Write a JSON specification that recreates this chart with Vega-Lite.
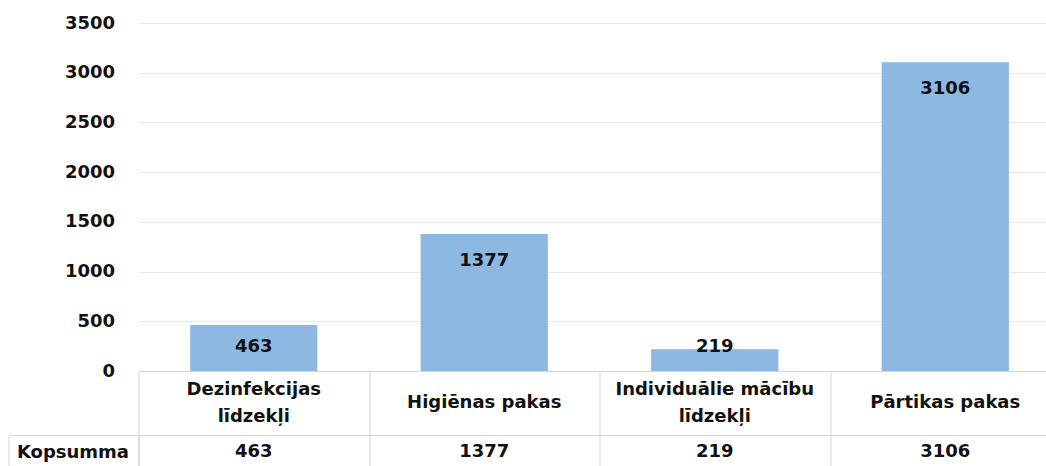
{
  "$schema": "https://vega.github.io/schema/vega-lite/v6.json",
  "padding": {"left": 7.5, "top": 14, "right": 0, "bottom": 0},
  "background": "white",
  "config": {
    "view": {"stroke": null},
    "font": "DejaVu Sans",
    "axis": {"labelFont": "DejaVu Sans", "labelFontWeight": "bold", "labelFontSize": 18, "labelColor": "#111111", "title": null}
  },
  "datasets": {
    "d": [
      {"kategorija": "Dezinfekcijas līdzekļi", "skaits": 463},
      {"kategorija": "Higiēnas pakas", "skaits": 1377},
      {"kategorija": "Individuālie mācību līdzekļi", "skaits": 219},
      {"kategorija": "Pārtikas pakas", "skaits": 3106}
    ]
  },
  "spacing": 0,
  "bounds": "flush",
  "vconcat": [
    {
      "width": 922,
      "height": 348,
      "data": {"name": "d"},
      "encoding": {
        "x": {
          "field": "kategorija", "type": "nominal", "sort": null,
          "scale": {"paddingInner": 0.448, "paddingOuter": 0.224},
          "axis": {"labels": false, "ticks": false, "domain": true, "domainColor": "#d4d4d4", "grid": false}
        },
        "y": {
          "field": "skaits", "type": "quantitative",
          "scale": {"domain": [0, 3500], "nice": false},
          "axis": {
            "values": [0, 500, 1000, 1500, 2000, 2500, 3000, 3500], "format": "d",
            "domain": false, "ticks": false, "labelPadding": 24, "gridColor": "#e8e8e8"
          }
        }
      },
      "layer": [
        {"mark": {"type": "bar", "color": "#8DB8E1"}},
        {
          "transform": [{"filter": "datum.skaits >= 1000"}],
          "mark": {"type": "text", "dy": 27, "fontSize": 18, "fontWeight": "bold", "color": "#111111", "font": "DejaVu Sans"},
          "encoding": {"text": {"field": "skaits", "type": "quantitative", "format": "d"}}
        },
        {
          "transform": [{"filter": "datum.skaits >= 400 && datum.skaits < 1000"}],
          "mark": {"type": "text", "dy": 22, "fontSize": 18, "fontWeight": "bold", "color": "#111111", "font": "DejaVu Sans"},
          "encoding": {"text": {"field": "skaits", "type": "quantitative", "format": "d"}}
        },
        {
          "transform": [{"filter": "datum.skaits < 400"}],
          "mark": {"type": "text", "dy": -2, "fontSize": 18, "fontWeight": "bold", "color": "#111111", "font": "DejaVu Sans"},
          "encoding": {"text": {"field": "skaits", "type": "quantitative", "format": "d"}}
        }
      ]
    },
    {
      "width": 922,
      "height": 64,
      "data": {"name": "d"},
      "encoding": {
        "x": {
          "field": "kategorija", "type": "nominal",
          "scale": {"domain": ["Dezinfekcijas līdzekļi", "Higiēnas pakas", "Individuālie mācību līdzekļi", "Pārtikas pakas"], "paddingInner": 0, "paddingOuter": 0},
          "axis": {"labels": false, "ticks": false, "domain": false, "grid": true, "tickBand": "extent", "gridColor": "#d4d4d4"}
        }
      },
      "layer": [
        {
          "transform": [{"filter": "length(datum.kategorija) <= 15"}],
          "mark": {"type": "text", "fontSize": 18, "fontWeight": "bold", "color": "#111111", "font": "DejaVu Sans"},
          "encoding": {"text": {"field": "kategorija", "type": "nominal"}}
        },
        {
          "transform": [
            {"filter": "length(datum.kategorija) > 15"},
            {"calculate": "substring(datum.kategorija, 0, lastindexof(datum.kategorija, ' ')) + '\\n' + substring(datum.kategorija, lastindexof(datum.kategorija, ' ') + 1)", "as": "rindas"}
          ],
          "mark": {"type": "text", "dy": -13.5, "lineHeight": 27, "lineBreak": "\n", "fontSize": 18, "fontWeight": "bold", "color": "#111111", "font": "DejaVu Sans"},
          "encoding": {"text": {"field": "rindas", "type": "nominal"}}
        }
      ]
    },
    {
      "width": 922,
      "height": 34,
      "data": {"name": "d"},
      "view": {"stroke": "#d4d4d4"},
      "mark": {"type": "text", "fontSize": 18, "fontWeight": "bold", "color": "#111111", "font": "DejaVu Sans"},
      "encoding": {
        "x": {
          "field": "kategorija", "type": "nominal",
          "scale": {"domain": ["Dezinfekcijas līdzekļi", "Higiēnas pakas", "Individuālie mācību līdzekļi", "Pārtikas pakas"], "paddingInner": 0, "paddingOuter": 0},
          "axis": {"labels": false, "ticks": false, "domain": false, "grid": true, "tickBand": "extent", "gridColor": "#d4d4d4"}
        },
        "y": {
          "datum": "Kopsumma", "type": "nominal",
          "scale": {"type": "band", "paddingInner": 0, "paddingOuter": 0},
          "axis": {
            "offset": 130, "domain": true, "domainColor": "#d4d4d4",
            "ticks": true, "tickSize": -130, "tickBand": "extent", "tickColor": "#d4d4d4",
            "labelPadding": 10, "labelAlign": "right", "labelBaseline": "middle", "grid": false
          }
        },
        "text": {"field": "skaits", "type": "quantitative", "format": "d"}
      }
    }
  ]
}
